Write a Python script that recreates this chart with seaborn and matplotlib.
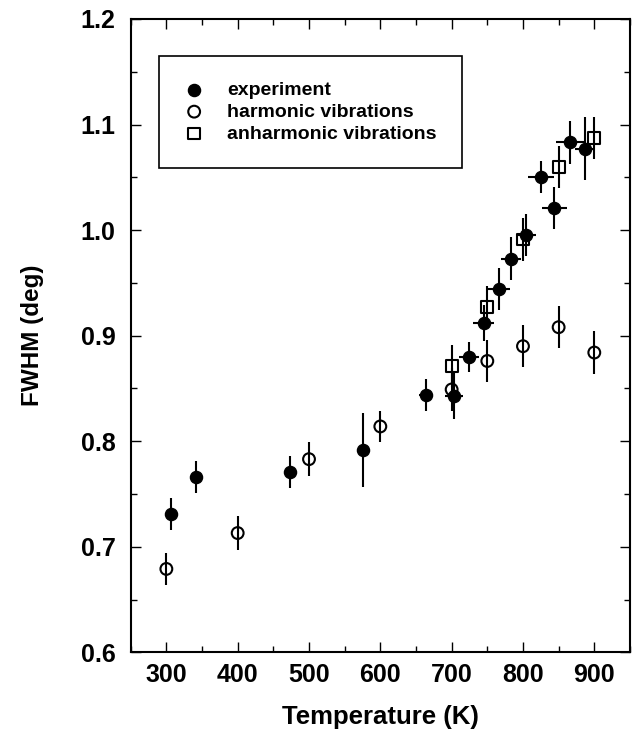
import matplotlib
matplotlib.use('Agg')
import matplotlib.pyplot as plt
from matplotlib.ticker import MultipleLocator, FormatStrFormatter
import seaborn as sns

# experiment (filled circles), T error and FWHM error
exp_T = [307, 341, 473, 576, 664, 703, 724, 745, 766, 783, 804, 825, 844, 866, 887]
exp_fwhm = [0.731, 0.766, 0.771, 0.792, 0.844, 0.843, 0.880, 0.912, 0.944,
            0.973, 0.995, 1.050, 1.021, 1.083, 1.077]
exp_T_err = [4, 4, 4, 8, 10, 13, 14, 15, 16, 14, 14, 18, 18, 20, 14]
exp_fwhm_err = [0.015, 0.015, 0.015, 0.035, 0.015, 0.022, 0.014, 0.017, 0.020,
                0.020, 0.020, 0.015, 0.020, 0.020, 0.030]

# harmonic vibrations (open circles)
harm_T = [300, 400, 500, 600, 700, 750, 800, 850, 900]
harm_fwhm = [0.679, 0.713, 0.783, 0.814, 0.849, 0.876, 0.890, 0.908, 0.884]
harm_err = [0.015, 0.016, 0.016, 0.015, 0.020, 0.020, 0.020, 0.020, 0.020]

# anharmonic vibrations (open squares)
anh_T = [700, 750, 800, 850, 900]
anh_fwhm = [0.871, 0.927, 0.991, 1.060, 1.087]
anh_err = [0.020, 0.020, 0.020, 0.020, 0.020]

sns.set_style('ticks')
plt.rcParams['font.family'] = ['Liberation Sans', 'DejaVu Sans']
plt.rcParams['font.weight'] = 'bold'
plt.rcParams['text.color'] = 'black'
plt.rcParams['axes.labelcolor'] = 'black'
plt.rcParams['xtick.color'] = 'black'
plt.rcParams['ytick.color'] = 'black'

fig = plt.figure(figsize=(6.36, 7.39), dpi=100)
ax = fig.add_axes([0.2055, 0.1173, 0.785, 0.857])

ax.errorbar(exp_T, exp_fwhm, xerr=exp_T_err, yerr=exp_fwhm_err, fmt='none',
            ecolor='black', elinewidth=1.5, capsize=0, zorder=2)
ax.errorbar(harm_T, harm_fwhm, yerr=harm_err, fmt='none',
            ecolor='black', elinewidth=1.5, capsize=0, zorder=2)
ax.errorbar(anh_T, anh_fwhm, yerr=anh_err, fmt='none',
            ecolor='black', elinewidth=1.5, capsize=0, zorder=2)

sns.scatterplot(x=exp_T, y=exp_fwhm, ax=ax, marker='o', s=76, color='black',
                edgecolor='black', linewidth=1.0, label='experiment', zorder=3)
sns.scatterplot(x=harm_T, y=harm_fwhm, ax=ax, marker='o', s=72, color='black',
                facecolor='none', edgecolor='black', linewidth=1.5,
                label='harmonic vibrations', zorder=3)
sns.scatterplot(x=anh_T, y=anh_fwhm, ax=ax, marker='s', s=72, color='black',
                facecolor='none', edgecolor='black', linewidth=1.5,
                label='anharmonic vibrations', zorder=3)

ax.set_xlim(250, 950)
ax.set_ylim(0.6, 1.2)
ax.xaxis.set_major_locator(MultipleLocator(100))
ax.xaxis.set_minor_locator(MultipleLocator(50))
ax.yaxis.set_major_locator(MultipleLocator(0.1))
ax.yaxis.set_minor_locator(MultipleLocator(0.05))
ax.yaxis.set_major_formatter(FormatStrFormatter('%.1f'))
ax.set_xticks([300, 400, 500, 600, 700, 800, 900])

ax.tick_params(which='both', direction='in', top=True, right=True, width=1.0, color='black')
ax.tick_params(which='major', length=7.5)
ax.tick_params(which='minor', length=4)
ax.tick_params(axis='x', labelsize=18, pad=8, labelcolor='black')
ax.tick_params(axis='y', labelsize=18, pad=11, labelcolor='black')
for lab in ax.get_xticklabels() + ax.get_yticklabels():
    lab.set_fontweight('bold')
for sp in ax.spines.values():
    sp.set_linewidth(1.5)
    sp.set_color('black')

ax.set_xlabel('Temperature (K)', fontsize=18.5, fontweight='bold', labelpad=13)
ax.set_ylabel('FWHM (deg)', fontsize=17.5, fontweight='bold', labelpad=26)

leg = ax.legend(loc='upper left', bbox_to_anchor=(0.057, 0.9416), borderaxespad=0,
                frameon=True, fancybox=False, edgecolor='black', framealpha=1,
                prop={'size': 14, 'weight': 'bold'}, handlelength=1.0,
                handletextpad=1.2, labelspacing=0.22, borderpad=1.3)
leg.get_frame().set_linewidth(1.2)
for t in leg.get_texts():
    t.set_color('black')

fig.savefig('out.png', dpi=100)
